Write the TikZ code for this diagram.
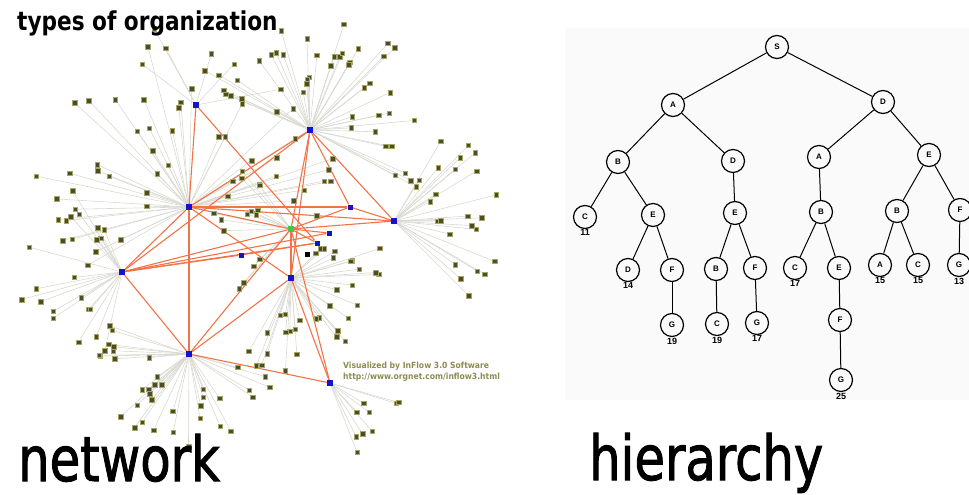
\documentclass[tikz,border=0pt]{standalone}
\usepackage{fontspec}
\usepackage{graphicx}
\setmainfont{Liberation Sans}
\newfontfamily\headfont{DejaVu Sans Condensed}
\newfontfamily\bigfont[FakeBold=1.6]{DejaVu Sans Condensed}
\usetikzlibrary{calc}

\definecolor{spokegray}{rgb}{0.85,0.85,0.82}
\definecolor{satolive}{rgb}{0.30,0.30,0.15}
\definecolor{satrim}{rgb}{0.65,0.65,0.40}
\definecolor{hubblue}{rgb}{0.08,0.08,0.78}
\definecolor{linkorange}{rgb}{0.95,0.45,0.28}
\definecolor{hubgreen}{rgb}{0.25,0.80,0.25}
\definecolor{creditolive}{rgb}{0.55,0.55,0.32}
\definecolor{panelgray}{rgb}{0.982,0.982,0.982}

\pgfdeclarelayer{spokes}
\pgfdeclarelayer{links}
\pgfsetlayers{spokes,links,main}

\begin{document}
\begin{tikzpicture}[x=1pt,y=-1pt,
	sat/.style={rectangle,fill=satolive,draw=satrim,line width=0.4pt,minimum size=4.5pt,inner sep=0pt},
	hub/.style={rectangle,fill=hubblue,minimum size=6pt,inner sep=0pt},
	spoke/.style={spokegray,line width=0.6pt},
	link/.style={linkorange,line width=1.1pt},
	leaf/.style={circle,draw,line width=1.2pt,minimum size=23pt,inner sep=0pt,font=\bfseries\fontsize{8}{9}\selectfont},
	num/.style={font=\bfseries\fontsize{9}{10}\selectfont,inner sep=0.5pt}]

	\useasboundingbox (0,0) rectangle (969,495);

	% network
	\node[hub] at (196,105) (h1) {};
	\node[hub] at (310,130) (h2) {};
	\node[hub] at (189,207) (h3) {};
	\node[hub] at (122,272) (h4) {};
	\node[hub] at (291,278) (h5) {};
	\node[hub] at (189,354) (h6) {};
	\node[hub] at (330,383) (h7) {};
	\node[hub] at (394,221) (h8) {};
	\node[hub,fill=hubgreen] at (291,229) (g) {};
	\node[hub,minimum size=5pt] at (350,207) (b1) {};
	\node[hub,minimum size=5pt] at (329,233) (b2) {};
	\node[hub,minimum size=5pt] at (317,243) (b3) {};
	\node[hub,minimum size=5pt] at (241,255) (b4) {};
	\node[hub,fill=black,minimum size=5pt] at (307,254) (k) {};

	\pgfmathsetseed{1234}
	\foreach \h/\n/\amin/\amax/\rmin/\rmax in {h1/6/200/350/45/90, h2/45/195/390/35/122, h3/48/150/375/30/170,
		h4/20/95/255/35/110, h5/34/300/490/35/95, h6/36/15/200/35/95, h7/9/5/120/35/75,
		h8/24/295/420/40/110, g/14/100/250/25/85} {
		\foreach \i in {1,...,\n} {
			\pgfmathsetmacro\ang{\amin+rnd*(\amax-\amin)}
			\pgfmathsetmacro\rad{\rmin+rnd*(\rmax-\rmin)}
			\node[sat] at ($(\h)+(\ang:\rad)$) (\h-\i) {};
			\begin{pgfonlayer}{spokes}
				\draw[spoke] (\h) -- (\h-\i);
			\end{pgfonlayer}
		}
	}

	\begin{pgfonlayer}{links}
		\foreach \a/\b in {h1/h3, h1/b3, h2/h3, h2/h4, h2/g, h2/h5, h2/h8, h2/b1, h3/g, h3/b1, h3/h8,
			h3/h4, h3/h5, h3/h6, h4/g, h4/b2, h4/b4, h4/h6, h4/b3, h5/g, h5/h6, h5/h7, h6/g, h6/h7,
			g/h8, g/b1, g/b2, g/b3, g/h7, b1/h8, b4/b3}
			\draw[link] (\a) -- (\b);
	\end{pgfonlayer}

	\node[anchor=north west,text=creditolive,font=\headfont\bfseries\fontsize{8.5}{10.5}\selectfont,align=left,inner sep=0pt] at (343,362) (credit)
		{Visualized by InFlow 3.0 Software\\http://www.orgnet.com/inflow3.html};

	% hierarchy
	\fill[panelgray] (565,28) rectangle (969,400);

	\node[leaf] at (777,47) (s) {S};
	\node[leaf] at (673,105) (a) {A};
	\node[leaf] at (883,102) (d) {D};
	\node[leaf] at (618,162) (ab) {B};
	\node[leaf] at (733,161) (ad) {D};
	\node[leaf] at (819,157) (da) {A};
	\node[leaf] at (929,155) (de) {E};
	\node[leaf,label={[num]below:11}] at (585,217) (abc) {C};
	\node[leaf] at (653,215) (abe) {E};
	\node[leaf] at (735,213) (ade) {E};
	\node[leaf] at (821,212) (dab) {B};
	\node[leaf] at (897,211) (deb) {B};
	\node[leaf] at (960,210) (def) {F};
	\node[leaf,label={[num]below:14}] at (628,270) (abed) {D};
	\node[leaf] at (672,270) (abef) {F};
	\node[leaf] at (716,269) (adeb) {B};
	\node[leaf] at (755,268) (adef) {F};
	\node[leaf,label={[num]below:17}] at (795,268) (dabc) {C};
	\node[leaf] at (839,268) (dabe) {E};
	\node[leaf,label={[num]below:15}] at (880,265) (deba) {A};
	\node[leaf,label={[num]below:15}] at (918,265) (debc) {C};
	\node[leaf,label={[num]below:13}] at (959,265) (defg) {G};
	\node[leaf,label={[num]below:19}] at (672,325) (abefg) {G};
	\node[leaf,label={[num]below:19}] at (717,324) (adebc) {C};
	\node[leaf,label={[num]below:17}] at (757,323) (adefg) {G};
	\node[leaf] at (840,320) (dabef) {F};
	\node[leaf,label={[num]below:25}] at (841,380) (dabefg) {G};

	\foreach \a/\b in {s/a, s/d, a/ab, a/ad, d/da, d/de, ab/abc, ab/abe, ad/ade, da/dab, de/deb, de/def,
		abe/abed, abe/abef, ade/adeb, ade/adef, dab/dabc, dab/dabe, deb/deba, deb/debc, def/defg,
		abef/abefg, adeb/adebc, adef/adefg, dabe/dabef, dabef/dabefg}
		\draw[line width=1pt] (\a) -- (\b);

	% titles
	\node[anchor=base west,inner sep=0pt,font=\headfont\bfseries\fontsize{26}{28}\selectfont] at (17,31) (title)
		{\scalebox{0.925}[1]{types of organization}};
	\node[anchor=base west,inner sep=0pt,font=\bigfont\fontsize{62}{66}\selectfont] at (18,481) (net)
		{\scalebox{0.89}[1]{network}};
	\node[anchor=base west,inner sep=0pt,font=\bigfont\fontsize{62}{66}\selectfont] at (589,480) (hier)
		{\scalebox{0.89}[1]{hierarchy}};
\end{tikzpicture}
\end{document}
